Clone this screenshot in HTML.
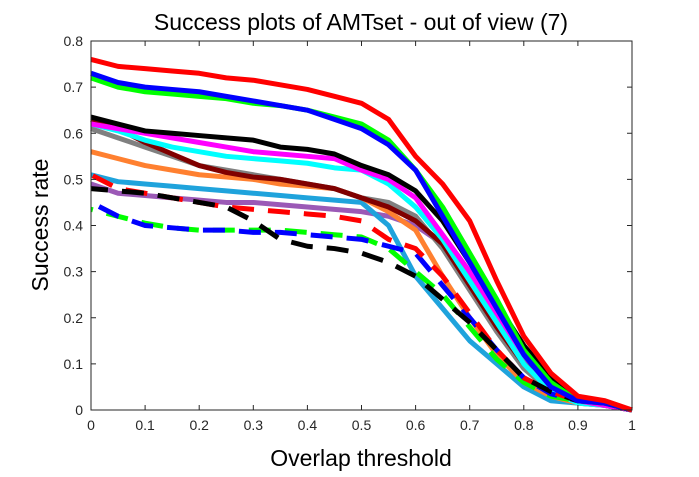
<!DOCTYPE html>
<html><head><meta charset="utf-8"><style>
body{margin:0;background:#fff;width:699px;height:472px;overflow:hidden}
svg{font-family:"Liberation Sans",sans-serif}
</style></head><body>
<svg id="chart" width="699" height="472">
<rect width="699" height="472" fill="#fff"/>
<text x="361" y="30" font-size="23" text-anchor="middle">Success plots of AMTset - out of view (7)</text>
<text x="361" y="466" font-size="23" text-anchor="middle">Overlap threshold</text>
<text transform="translate(48,225) rotate(-90)" font-size="23" text-anchor="middle">Success rate</text>
<g id="grid"></g><g id="marks"></g><g id="axes"></g>
</svg>
<script>
const xThresholds=[0,0.05,0.1,0.15,0.2,0.25,0.3,0.35,0.4,0.45,0.5,0.55,0.6,0.65,0.7,0.75,0.8,0.85,0.9,0.95,1];
const xTicks=["0","0.1","0.2","0.3","0.4","0.5","0.6","0.7","0.8","0.9","1"];
const yTicks=["0","0.1","0.2","0.3","0.4","0.5","0.6","0.7","0.8"];
const seriesNames=["red","green","blue","black","magenta","cyan","maroon","grey","orange","lightblue","purple","red-dashed","black-dashed","blue-dashed","green-dashed"];
const redSolid=[0.76,0.745,0.74,0.735,0.73,0.72,0.715,0.705,0.695,0.68,0.665,0.63,0.55,0.49,0.41,0.28,0.16,0.08,0.03,0.02,0.0];
const greenSolid=[0.72,0.70,0.69,0.685,0.68,0.675,0.665,0.66,0.65,0.635,0.62,0.585,0.52,0.44,0.34,0.24,0.13,0.06,0.02,0.015,0.0];
const blueSolid=[0.73,0.71,0.70,0.695,0.69,0.68,0.67,0.66,0.65,0.63,0.61,0.575,0.52,0.42,0.32,0.22,0.12,0.05,0.02,0.015,0.0];
const blackSolid=[0.635,0.62,0.605,0.6,0.595,0.59,0.585,0.57,0.565,0.555,0.53,0.51,0.475,0.41,0.32,0.23,0.14,0.07,0.025,0.015,0.0];
const magentaSolid=[0.62,0.61,0.60,0.59,0.58,0.57,0.56,0.555,0.55,0.545,0.52,0.50,0.46,0.38,0.30,0.21,0.12,0.05,0.02,0.01,0.0];
const cyanSolid=[0.62,0.605,0.585,0.57,0.56,0.55,0.545,0.54,0.535,0.525,0.52,0.49,0.44,0.37,0.28,0.19,0.10,0.04,0.015,0.01,0.0];
const maroonSolid=[0.63,0.61,0.58,0.555,0.53,0.515,0.505,0.5,0.49,0.48,0.46,0.44,0.41,0.36,0.27,0.18,0.10,0.05,0.02,0.01,0.0];
const greySolid=[0.61,0.59,0.57,0.55,0.53,0.52,0.51,0.5,0.49,0.48,0.46,0.45,0.42,0.35,0.26,0.17,0.09,0.04,0.02,0.01,0.0];
const orangeSolid=[0.56,0.545,0.53,0.52,0.51,0.505,0.50,0.49,0.485,0.48,0.46,0.43,0.39,0.29,0.20,0.12,0.06,0.03,0.015,0.01,0.0];
const lightblueSolid=[0.51,0.495,0.49,0.485,0.48,0.475,0.47,0.465,0.46,0.455,0.45,0.40,0.29,0.22,0.15,0.10,0.05,0.02,0.015,0.01,0.0];
const purpleSolid=[0.49,0.47,0.465,0.46,0.455,0.45,0.45,0.445,0.44,0.435,0.43,0.42,0.40,0.36,0.29,0.19,0.11,0.05,0.02,0.015,0.0];
const redDashed=[0.51,0.48,0.47,0.46,0.45,0.44,0.435,0.43,0.425,0.42,0.41,0.37,0.35,0.29,0.21,0.13,0.07,0.04,0.02,0.015,0.0];
const blackDashed=[0.48,0.475,0.47,0.46,0.45,0.44,0.41,0.37,0.355,0.35,0.34,0.32,0.29,0.24,0.19,0.13,0.07,0.04,0.02,0.015,0.0];
const blueDashed=[0.45,0.42,0.40,0.395,0.39,0.39,0.385,0.385,0.38,0.375,0.37,0.355,0.34,0.27,0.20,0.13,0.07,0.035,0.02,0.015,0.0];
const greenDashed=[0.435,0.42,0.405,0.395,0.39,0.39,0.39,0.39,0.385,0.38,0.375,0.35,0.30,0.25,0.18,0.11,0.06,0.03,0.02,0.015,0.0];

const X0=91,X1=632,Y0=410,Y1=41;
const sx=v=>X0+(X1-X0)*v;
const sy=v=>Y0-(Y0-Y1)*v/0.8;
const NS="http://www.w3.org/2000/svg";
const marks=document.getElementById('marks');
const axes=document.getElementById('axes');
const styles=[
 [purpleSolid,"#9b59b6",false],[lightblueSolid,"#1fa3dc",false],[orangeSolid,"#ff8030",false],
 [greySolid,"#808080",false],[maroonSolid,"#800000",false],[cyanSolid,"#00ffff",false],
 [magentaSolid,"#ff00ff",false],[blackSolid,"#000000",false],
 [greenDashed,"#00ff00",true],[blueDashed,"#0000ff",true],[redDashed,"#ff0000",true],[blackDashed,"#000000",true],
 [greenSolid,"#00ff00",false],[blueSolid,"#0000ff",false],[redSolid,"#ff0000",false]];
const nameMap=new Map([[redSolid,"red"],[greenSolid,"green"],[blueSolid,"blue"],[blackSolid,"black"],[magentaSolid,"magenta"],[cyanSolid,"cyan"],[maroonSolid,"maroon"],[greySolid,"grey"],[orangeSolid,"orange"],[lightblueSolid,"lightblue"],[purpleSolid,"purple"],[redDashed,"red-dashed"],[blackDashed,"black-dashed"],[blueDashed,"blue-dashed"],[greenDashed,"green-dashed"]]);
styles.forEach(([vals,color,dash],i)=>{
 const p=document.createElementNS(NS,'polyline');
 p.setAttribute('points',vals.map((v,j)=>sx(xThresholds[j])+','+sy(v)).join(' '));
 p.setAttribute('fill','none');p.setAttribute('stroke',color);
 p.setAttribute('stroke-width','5');p.setAttribute('stroke-linejoin','round');
 if(dash)p.setAttribute('stroke-dasharray','22 14');
 if(dash)p.setAttribute('stroke-dashoffset',String(i*7));
 
 
 marks.appendChild(p);
});
function el(tag,attrs,parent,text){const e=document.createElementNS(NS,tag);for(const k in attrs)e.setAttribute(k,attrs[k]);if(text!==undefined)e.textContent=text;parent.appendChild(e);return e;}
const box=el('rect',{x:X0,y:Y1,width:X1-X0,height:Y0-Y1,fill:'none',stroke:'#262626','stroke-width':1},axes);


xTicks.forEach((t,i)=>{
 const x=sx(i/10);
 el('line',{x1:x,x2:x,y1:Y0,y2:Y0-5,stroke:'#262626'},axes);
 el('line',{x1:x,x2:x,y1:Y1,y2:Y1+5,stroke:'#262626'},axes);
 const tx=el('text',{x:x,y:Y0+20,'font-size':14,'text-anchor':'middle',fill:'#262626'},axes,t);
 
 
});
yTicks.forEach((t,i)=>{
 const y=sy(i/10);
 el('line',{x1:X0,x2:X0+5,y1:y,y2:y,stroke:'#262626'},axes);
 el('line',{x1:X1,x2:X1-5,y1:y,y2:y,stroke:'#262626'},axes);
 const ty=el('text',{x:X0-8,y:y+5,'font-size':14,'text-anchor':'end',fill:'#262626'},axes,t);
 
 
});
</script>
</body></html>
